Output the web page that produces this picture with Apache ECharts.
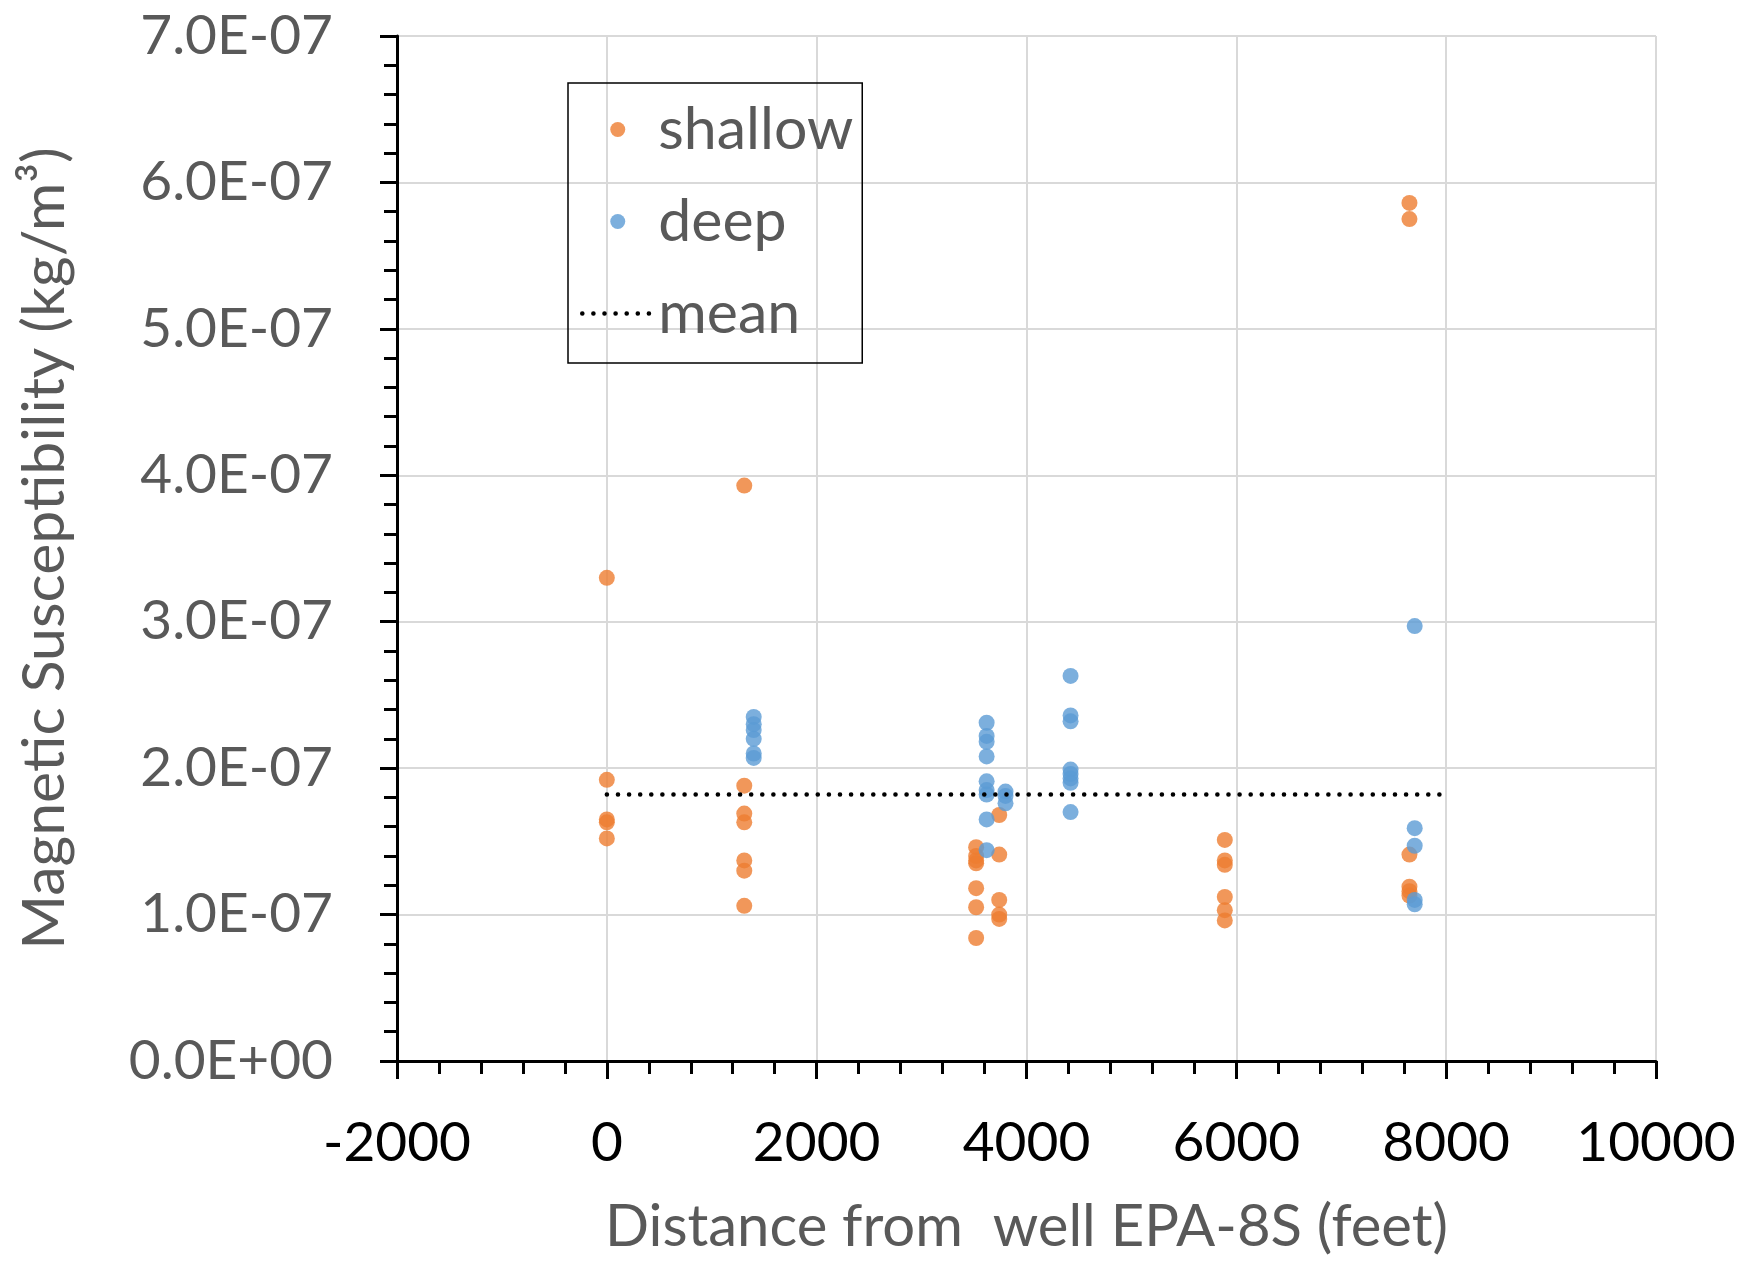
<!DOCTYPE html>
<html>
<head>
<meta charset="utf-8">
<script src="https://cdn.jsdelivr.net/npm/echarts@6/dist/echarts.min.js"></script>
<style>
  html, body { margin: 0; padding: 0; background: #fff; }
  #chart { width: 1743px; height: 1261px; }
</style>
</head>
<body>
<div id="chart"></div>
<script>
// Sampling stations (distance from well EPA-8S, feet) and susceptibility readings (kg/m3)
const shallowX = [0, 1310, 3520, 3740, 5890, 7650];
const shallowY = [
  [3.30e-7, 1.92e-7, 1.65e-7, 1.63e-7, 1.52e-7],
  [3.93e-7, 1.88e-7, 1.69e-7, 1.63e-7, 1.37e-7, 1.30e-7, 1.06e-7],
  [1.46e-7, 1.40e-7, 1.37e-7, 1.35e-7, 1.18e-7, 1.05e-7, 0.84e-7],
  [1.68e-7, 1.41e-7, 1.10e-7, 1.00e-7, 0.97e-7],
  [1.51e-7, 1.37e-7, 1.34e-7, 1.12e-7, 1.03e-7, 0.96e-7],
  [5.86e-7, 5.75e-7, 1.41e-7, 1.19e-7, 1.16e-7, 1.13e-7]
];
const deepX = [1400, 3620, 3800, 4420, 7700];
const deepY = [
  [2.35e-7, 2.30e-7, 2.26e-7, 2.20e-7, 2.10e-7, 2.07e-7],
  [2.31e-7, 2.22e-7, 2.18e-7, 2.08e-7, 1.91e-7, 1.85e-7, 1.82e-7, 1.65e-7, 1.44e-7],
  [1.84e-7, 1.81e-7, 1.76e-7],
  [2.63e-7, 2.36e-7, 2.32e-7, 1.99e-7, 1.96e-7, 1.93e-7, 1.90e-7, 1.70e-7],
  [2.97e-7, 1.59e-7, 1.47e-7, 1.10e-7, 1.07e-7]
];
const meanValue = 1.82e-7;
const meanRange = [0, 8000];
const seriesNames = ['shallow', 'deep', 'mean'];
const xTitle = 'Distance from  well EPA-8S (feet)';
const yTitle = 'Magnetic Susceptibility (kg/m\u00B3)';

function toPoints(xs, ys) {
  const pts = [];
  xs.forEach((x, i) => ys[i].forEach(y => pts.push([x, y])));
  return pts;
}

// Excel-style scientific label, e.g. 7.0E-07
function sci(v) {
  if (Math.abs(v) < 1e-20) return '0.0E+00';
  let e = Math.floor(Math.log10(Math.abs(v)) + 1e-9);
  let m = v / Math.pow(10, e);
  if (Math.round(m * 10) / 10 >= 10) { m /= 10; e++; }
  return m.toFixed(1) + 'E' + (e < 0 ? '-' : '+') + String(Math.abs(e)).padStart(2, '0');
}

const FONT = 'Lato';
const meanDots = { color: '#000', width: 4.5, type: [0.1, 11], cap: 'round' };
const chart = echarts.init(document.getElementById('chart'), null, { renderer: 'canvas' });

chart.setOption({
  animation: false,
  backgroundColor: '#ffffff',
  grid: { left: 397, right: 87, top: 36, bottom: 199, containLabel: false },
  legend: {
    orient: 'vertical',
    left: 568,
    top: 83,
    padding: [17, 9, 20, 12],
    itemWidth: 71,
    itemHeight: 15,
    itemGap: 33,
    borderColor: '#000',
    borderWidth: 1.5,
    textStyle: { fontFamily: FONT, fontSize: 59, color: '#595959' },
    data: [
      { name: seriesNames[0] },
      { name: seriesNames[1] },
      { name: seriesNames[2], itemStyle: { opacity: 0 }, lineStyle: meanDots }
    ]
  },
  xAxis: {
    type: 'value',
    min: -2000,
    max: 10000,
    interval: 2000,
    name: xTitle,
    nameLocation: 'middle',
    nameGap: 137,
    nameTextStyle: { fontFamily: FONT, fontSize: 58, color: '#595959' },
    axisLine: { show: true, onZero: false, lineStyle: { color: '#000', width: 3 } },
    axisTick: { show: true, length: 18, lineStyle: { color: '#000', width: 3 } },
    minorTick: { show: true, splitNumber: 5, length: 13, lineStyle: { color: '#000', width: 3 } },
    axisLabel: { fontFamily: FONT, fontSize: 55, color: '#000', margin: 55, formatter: v => String(v) },
    splitLine: { show: true, lineStyle: { color: '#D9D9D9', width: 2 } }
  },
  yAxis: {
    type: 'value',
    min: 0,
    max: 7e-7,
    interval: 1e-7,
    name: yTitle,
    nameLocation: 'middle',
    nameGap: 323,
    nameTextStyle: { fontFamily: FONT, fontSize: 59, color: '#595959' },
    axisLine: { show: true, onZero: false, lineStyle: { color: '#000', width: 3 } },
    axisTick: { show: true, length: 17, lineStyle: { color: '#000', width: 3 } },
    minorTick: { show: true, splitNumber: 5, length: 13, lineStyle: { color: '#000', width: 3 } },
    axisLabel: { fontFamily: FONT, fontSize: 55, color: '#595959', margin: 64, formatter: sci },
    splitLine: { show: true, lineStyle: { color: '#D9D9D9', width: 2 } }
  },
  series: [
    {
      name: seriesNames[0],
      type: 'scatter',
      symbol: 'circle',
      symbolSize: 16,
      itemStyle: { color: '#ED7D31' },
      data: toPoints(shallowX, shallowY)
    },
    {
      name: seriesNames[1],
      type: 'scatter',
      symbol: 'circle',
      symbolSize: 16,
      itemStyle: { color: '#5B9BD5' },
      data: toPoints(deepX, deepY)
    },
    {
      name: seriesNames[2],
      type: 'line',
      symbol: 'none',
      lineStyle: meanDots,
      itemStyle: { color: '#000' },
      data: meanRange.map(x => [x, meanValue])
    }
  ]
});
</script>
</body>
</html>
